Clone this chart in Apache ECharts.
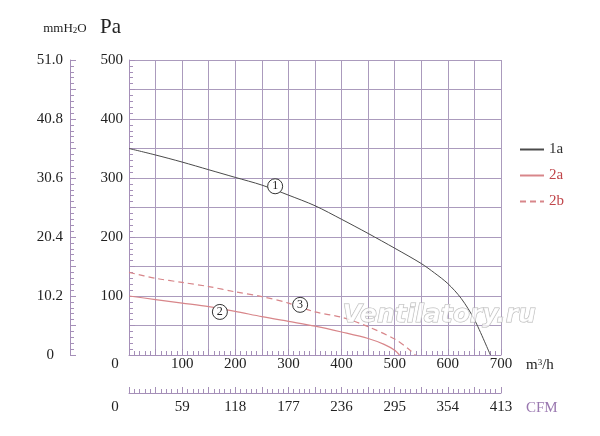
<!DOCTYPE html>
<html>
<head>
<meta charset="utf-8">
<script src="https://cdn.jsdelivr.net/npm/echarts@6/dist/echarts.min.js"></script>
<style>
  html, body { margin: 0; padding: 0; background: #fff; }
  #chart { width: 600px; height: 436px; }
</style>
</head>
<body>
<div id="chart"></div>
<script>
// flow in m3/h, pressure in Pa
var curve1a = [
  [0, 350], [50, 339], [100, 327], [150, 314], [200, 301], [250, 288],
  [300, 271], [350, 253], [400, 230], [450, 206], [500, 181], [550, 155],
  [575, 139], [600, 121], [625, 96], [650, 60], [680, 0]
];
var curve2a = [
  [0, 100], [50, 94], [100, 88], [150, 82], [200, 74], [250, 65],
  [300, 57], [350, 49], [400, 39], [450, 28], [480, 18], [500, 8], [509, 0]
];
var curve2b = [
  [0, 140], [50, 130], [100, 123], [150, 116], [200, 107], [250, 99],
  [300, 88], [350, 73], [400, 64], [450, 48], [500, 27], [525, 11], [539, 0]
];
var curveTags = [
  { name: "1", coord: [275, 286] },
  { name: "2", coord: [171, 73] },
  { name: "3", coord: [322, 85] }
];
var legendNames = ["1a", "2a", "2b"];

var serif = "Liberation Serif";
var gridCol = "#ab9bbd";
var axisCol = "#a58fb8";

function tagPoint(tag) {
  return {
    coord: tag.coord,
    value: tag.name,
    symbol: "circle",
    symbolSize: 15,
    itemStyle: { color: "#fff", borderColor: "#333", borderWidth: 1 },
    label: {
      show: true,
      formatter: tag.name,
      color: "#222",
      fontFamily: serif,
      fontSize: 12
    }
  };
}

function axisBits() {
  return {
    axisLine: { show: true, onZero: false, lineStyle: { color: axisCol } },
    axisTick: { show: true, inside: true, length: 6, lineStyle: { color: axisCol } },
    minorTick: { show: true, splitNumber: 5, length: 4, lineStyle: { color: axisCol } }
  };
}

var chart = echarts.init(document.getElementById("chart"));

var option = {
  animation: false,
  backgroundColor: "#fff",
  grid: { left: 129, top: 60, right: 99, bottom: 81, containLabel: false },
  legend: {
    orient: "vertical",
    left: 514,
    top: 137,
    itemWidth: 24,
    itemHeight: 12,
    itemGap: 11,
    itemStyle: { opacity: 0 },
    textStyle: { fontFamily: serif, fontSize: 15 },
    data: [
      { name: legendNames[0], textStyle: { color: "#333" } },
      { name: legendNames[1], textStyle: { color: "#c0454a" } },
      { name: legendNames[2], textStyle: { color: "#c0454a" } }
    ]
  },
  graphic: [
    {
      type: "text",
      left: 342,
      top: 302,
      silent: true,
      z: 10,
      style: {
        text: "Ventilatory.ru",
        font: "italic bold 25px 'DejaVu Sans'",
        fill: "rgba(255,255,255,0.75)",
        stroke: "#b5b5b5",
        lineWidth: 1
      }
    }
  ],
  xAxis: [
    Object.assign({
      type: "value",
      min: 0,
      max: 700,
      interval: 50,
      position: "bottom",
      name: "{a|m}{s|3}{a|/h}",
      nameLocation: "end",
      nameGap: 25,
      nameTextStyle: {
        align: "left",
        verticalAlign: "top",
        padding: [3, 0, 0, 0],
        rich: {
          a: { fontFamily: serif, fontSize: 15, color: "#222" },
          s: { fontFamily: serif, fontSize: 9, color: "#222", verticalAlign: "top" }
        }
      },
      splitLine: { show: true, lineStyle: { color: gridCol, width: 1 } },
      axisLabel: {
        margin: 2,
        color: "#222",
        fontFamily: serif,
        fontSize: 15,
        formatter: function (v) {
          if (v === 0) return "{z|0}";
          return v % 100 === 0 ? String(v) : "";
        },
        rich: { z: { fontFamily: serif, fontSize: 15, color: "#222", padding: [0, 28, 0, 0] } }
      }
    }, axisBits()),
    Object.assign({
      type: "value",
      min: 0,
      max: 413,
      interval: 29.5,
      position: "bottom",
      offset: 38,
      name: "CFM",
      nameLocation: "end",
      nameGap: 25,
      nameTextStyle: {
        align: "left",
        verticalAlign: "top",
        padding: [8, 0, 0, 0],
        color: "#9a78b0",
        fontFamily: serif,
        fontSize: 15
      },
      splitLine: { show: false },
      axisLabel: {
        margin: 7,
        color: "#222",
        fontFamily: serif,
        fontSize: 15,
        formatter: function (v) {
          var k = Math.round(v / 29.5);
          if (k === 0) return "{z|0}";
          return k % 2 ? "" : String(k / 2 * 59);
        },
        rich: { z: { fontFamily: serif, fontSize: 15, color: "#222", padding: [0, 28, 0, 0] } }
      }
    }, axisBits())
  ],
  yAxis: [
    Object.assign({
      type: "value",
      min: 0,
      max: 500,
      interval: 50,
      position: "left",
      name: "Pa",
      nameLocation: "end",
      nameGap: 22,
      nameTextStyle: {
        align: "right",
        padding: [0, 8, 0, 0],
        color: "#222",
        fontFamily: serif,
        fontSize: 21
      },
      splitLine: { show: true, lineStyle: { color: gridCol, width: 1 } },
      axisLabel: {
        margin: 6,
        color: "#222",
        fontFamily: serif,
        fontSize: 15,
        formatter: function (v) {
          return v !== 0 && v % 100 === 0 ? String(v) : "";
        }
      }
    }, axisBits()),
    Object.assign({
      type: "value",
      min: 0,
      max: 51,
      interval: 5.1,
      position: "left",
      offset: 59,
      name: "{a|mmH}{s|2}{a|O}",
      nameLocation: "end",
      nameGap: 25,
      nameTextStyle: {
        align: "center",
        padding: [0, 10, 0, 0],
        rich: {
          a: { fontFamily: serif, fontSize: 13, color: "#222" },
          s: { fontFamily: serif, fontSize: 9, color: "#222", verticalAlign: "bottom" }
        }
      },
      splitLine: { show: false },
      axisLabel: {
        margin: 7,
        color: "#222",
        fontFamily: serif,
        fontSize: 15,
        formatter: function (v) {
          var k = Math.round(v / 5.1);
          if (k === 0) return "{z|0}";
          return k % 2 ? "" : (k * 5.1).toFixed(1);
        },
        rich: { z: { fontFamily: serif, fontSize: 15, color: "#222", padding: [0, 9, 0, 0] } }
      }
    }, axisBits())
  ],
  series: [
    {
      name: legendNames[0],
      type: "line",
      xAxisIndex: 0,
      yAxisIndex: 0,
      smooth: 0.3,
      symbol: "none",
      lineStyle: { color: "#4a4a4a", width: 1 },
      itemStyle: { color: "#4a4a4a" },
      data: curve1a,
      markPoint: { data: [tagPoint(curveTags[0])] }
    },
    {
      name: legendNames[1],
      type: "line",
      xAxisIndex: 0,
      yAxisIndex: 0,
      smooth: 0.3,
      symbol: "none",
      lineStyle: { color: "#d8868a", width: 1.2 },
      itemStyle: { color: "#d8868a" },
      data: curve2a,
      markPoint: { data: [tagPoint(curveTags[1])] }
    },
    {
      name: legendNames[2],
      type: "line",
      xAxisIndex: 0,
      yAxisIndex: 0,
      smooth: 0.3,
      symbol: "none",
      lineStyle: { color: "#d8868a", width: 1.2, type: [6, 4] },
      itemStyle: { color: "#d8868a" },
      data: curve2b,
      markPoint: { data: [tagPoint(curveTags[2])] }
    }
  ]
};

chart.setOption(option);
</script>
</body>
</html>
